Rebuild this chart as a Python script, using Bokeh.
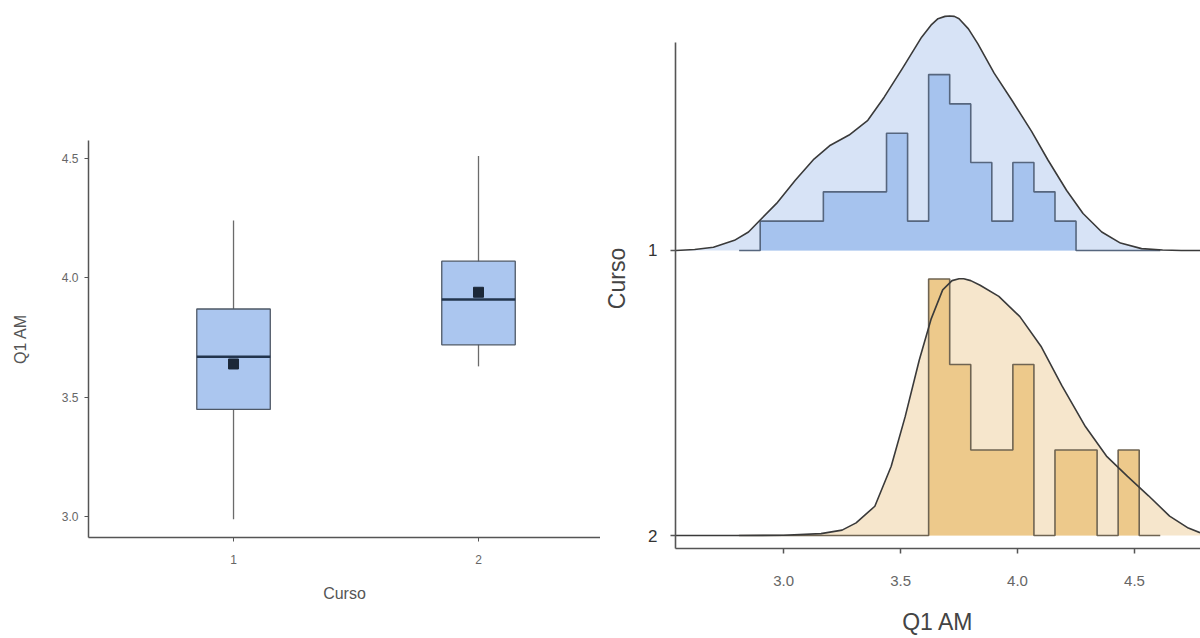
import numpy as np
from bokeh.plotting import figure
from bokeh.layouts import row
from bokeh.models import Range1d, FixedTicker
from bokeh.embed import file_html
from bokeh.resources import INLINE

# ---------------- data ----------------
cursos = ["1", "2"]
box_min = [2.99, 3.63]
box_q1 = [3.45, 3.72]
box_median = [3.67, 3.91]
box_q3 = [3.87, 4.07]
box_max = [4.24, 4.51]
box_mean = [3.64, 3.94]

bin_start = 2.81
bin_width = 0.09
hist_counts_1 = [0, 1, 1, 1, 2, 2, 2, 4, 1, 6, 5, 3, 1, 3, 2, 1, 0, 0, 0, 0]
hist_counts_2 = [0, 0, 0, 0, 0, 0, 0, 0, 0, 3, 2, 1, 1, 2, 0, 1, 1, 0, 1, 0]

kde_x_1 = [2.54, 2.62, 2.70, 2.79, 2.85, 2.90, 2.97, 3.05, 3.13, 3.20, 3.28, 3.36,
           3.43, 3.51, 3.59, 3.63, 3.66, 3.69, 3.71, 3.73, 3.75, 3.79, 3.83, 3.90,
           3.98, 4.06, 4.13, 4.21, 4.28, 4.36, 4.44, 4.53, 4.62, 4.70, 4.78]
kde_y_1 = [0.0, 0.01, 0.035, 0.11, 0.20, 0.33, 0.51, 0.76, 0.99, 1.14, 1.25, 1.41,
           1.66, 1.98, 2.31, 2.44, 2.51, 2.535, 2.54, 2.535, 2.51, 2.40, 2.24, 1.92,
           1.61, 1.29, 0.98, 0.65, 0.40, 0.20, 0.08, 0.02, 0.005, 0.0, 0.0]

kde_x_2 = [2.54, 2.80, 3.00, 3.16, 3.25, 3.31, 3.39, 3.46, 3.52, 3.58, 3.63, 3.68,
           3.72, 3.75, 3.77, 3.80, 3.84, 3.92, 4.01, 4.10, 4.19, 4.29, 4.38, 4.47,
           4.56, 4.65, 4.73, 4.78]
kde_y_2 = [0.0, 0.0, 0.003, 0.02, 0.058, 0.137, 0.317, 0.75, 1.29, 1.90, 2.34, 2.66,
           2.76, 2.78, 2.78, 2.76, 2.71, 2.59, 2.37, 2.05, 1.62, 1.18, 0.86, 0.64,
           0.43, 0.21, 0.08, 0.03]

ridge_labels = ["1", "2"]   # ridge "1" on top, "2" at bottom

FONT = "Liberation Sans"

# ---------------- left: box plot ----------------
p1 = figure(width=600, height=638, x_range=Range1d(0.408, 2.498),
            y_range=Range1d(2.914, 4.575), output_backend="svg",
            toolbar_location=None, min_border_left=88, min_border_right=0,
            min_border_top=140, min_border_bottom=101)
p1.frame_align = False
p1.outline_line_color = None
p1.xgrid.grid_line_color = None
p1.ygrid.grid_line_color = None

xs = [i + 1 for i in range(len(cursos))]
bw = 0.3
p1.segment(x0=xs, y0=box_min, x1=xs, y1=box_max, line_color="#6b6b6b", line_width=1.3)
p1.vbar(x=xs, width=bw, bottom=box_q1, top=box_q3, fill_color="#abc6ef",
        line_color="#4e5866", line_width=1.3)
p1.segment(x0=[x - bw / 2 for x in xs], y0=box_median, x1=[x + bw / 2 for x in xs],
           y1=box_median, line_color="#22344d", line_width=2.6)
p1.scatter(x=xs, y=box_mean, marker="square", size=10, fill_color="#1c2838",
           line_color="#1c2838")

p1.xaxis.ticker = FixedTicker(ticks=xs)
p1.xaxis.major_label_overrides = {x: c for x, c in zip(xs, cursos)}
p1.yaxis.ticker = FixedTicker(ticks=[3.0, 3.5, 4.0, 4.5])
p1.yaxis.major_label_overrides = {3.0: "3.0", 3.5: "3.5", 4.0: "4.0", 4.5: "4.5"}
p1.xaxis.axis_label = "Curso"
p1.yaxis.axis_label = "Q1 AM"
for ax in (p1.xaxis, p1.yaxis):
    ax.axis_line_color = "#555555"
    ax.axis_line_width = 1.5
    ax.major_tick_line_color = "#555555"
    ax.major_tick_in = 0
    ax.major_tick_out = 4
    ax.minor_tick_line_color = None
    ax.major_label_text_font = FONT
    ax.major_label_text_font_size = "12px"
    ax.major_label_text_color = "#666666"
    ax.axis_label_text_font = FONT
    ax.axis_label_text_font_size = "16px"
    ax.axis_label_text_font_style = "normal"
    ax.axis_label_text_color = "#555555"
p1.xaxis.major_label_standoff = 13
p1.xaxis.axis_label_standoff = 18
p1.yaxis.major_label_standoff = 6
p1.yaxis.axis_label_standoff = 30

# ---------------- right: ridge plot ----------------
p2 = figure(width=600, height=638, x_range=Range1d(2.538, 4.782),
            y_range=Range1d(-0.0456, 1.849), output_backend="svg",
            toolbar_location=None, min_border_left=75, min_border_right=0,
            min_border_top=8, min_border_bottom=90)
p2.frame_align = False
p2.outline_line_color = None
p2.xgrid.grid_line_color = None
p2.ygrid.grid_line_color = None

scale = 0.324  # ridge units per density unit
edges = bin_start + bin_width * np.arange(len(hist_counts_1) + 1)

groups = [
    (1.0, hist_counts_1, kde_x_1, kde_y_1, "#d7e3f6", "#a6c3ee", "#56667e"),
    (0.0, hist_counts_2, kde_x_2, kde_y_2, "#f6e6cc", "#edc98b", "#6f6452"),
]
for base, counts, kx, ky, dens_fill, hist_fill, hist_line in groups:
    c = np.array(counts, dtype=float)
    dens = c / (c.sum() * bin_width)
    top = base + dens * scale
    top_step = np.append(top, top[-1])
    kx = np.array(kx)
    ktop = base + np.array(ky) * scale
    p2.varea(x=kx, y1=np.full_like(kx, base), y2=ktop, fill_color=dens_fill)
    p2.varea_step(x=edges, y1=np.full_like(edges, base), y2=top_step,
                  step_mode="after", fill_color=hist_fill)
    p2.step(x=edges, y=top_step, mode="after", line_color=hist_line, line_width=1.6)
    p2.line(x=kx, y=ktop, line_color="#3a3a3a", line_width=1.6, line_join="round")

p2.xaxis.ticker = FixedTicker(ticks=[3.0, 3.5, 4.0, 4.5])
p2.xaxis.major_label_overrides = {3.0: "3.0", 3.5: "3.5", 4.0: "4.0", 4.5: "4.5"}
p2.yaxis.ticker = FixedTicker(ticks=[1.0, 0.0])
p2.yaxis.major_label_overrides = {1.0: ridge_labels[0], 0.0: ridge_labels[1]}
p2.yaxis.bounds = (-0.0456, 1.73)
p2.xaxis.axis_label = "Q1 AM"
p2.yaxis.axis_label = "Curso"
for ax in (p2.xaxis, p2.yaxis):
    ax.axis_line_color = "#555555"
    ax.axis_line_width = 1.6
    ax.major_tick_line_color = "#555555"
    ax.major_tick_line_width = 1.5
    ax.major_tick_in = 0
    ax.major_tick_out = 5
    ax.minor_tick_line_color = None
    ax.major_label_text_font = FONT
    ax.axis_label_text_font = FONT
    ax.axis_label_text_font_size = "23px"
    ax.axis_label_text_font_style = "normal"
    ax.axis_label_text_color = "#444444"
p2.xaxis.major_label_text_font_size = "15px"
p2.xaxis.major_label_text_color = "#666666"
p2.yaxis.major_label_text_font_size = "17px"
p2.yaxis.major_label_text_color = "#333333"
p2.xaxis.major_label_standoff = 22
p2.xaxis.axis_label_standoff = 20
p2.yaxis.major_label_standoff = 13
p2.yaxis.axis_label_standoff = 15

layout = row(p1, p2)
open("out.html", "w").write(file_html(layout, INLINE))
